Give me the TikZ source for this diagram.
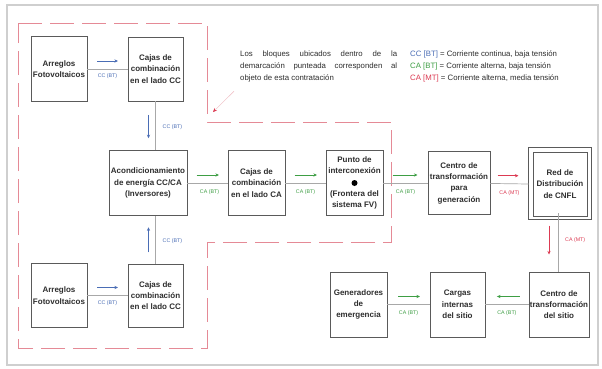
\documentclass[tikz,border=0pt]{standalone}
\usepackage{fontspec}
\setmainfont{Liberation Sans}
\usetikzlibrary{arrows.meta,calc}

\definecolor{boxgray}{HTML}{5A5A5A}
\definecolor{linegray}{HTML}{A8A8A8}
\definecolor{framegray}{HTML}{CFCFCF}
\definecolor{txt}{HTML}{2E2E2E}
\definecolor{cblue}{HTML}{4A6DB5}
\definecolor{cgreen}{HTML}{3E9E44}
\definecolor{cred}{HTML}{DC3A52}
\definecolor{dashred}{HTML}{E58A96}

\begin{document}
\begin{tikzpicture}[x=1pt,y=-1pt,
  blk/.style={draw=boxgray, line width=0.7pt, fill=white, align=center,
    inner sep=1pt, text=txt, font=\fontsize{8}{11.3}\selectfont\bfseries},
  conn/.style={draw=linegray, line width=0.7pt},
  flow/.style={-{Stealth[length=3.6pt,width=3.2pt]}, line width=0.6pt},
  lbl/.style={font=\fontsize{5.3}{6}\selectfont, inner sep=0pt},
  note/.style={font=\fontsize{7.8}{11.8}\selectfont, text=txt, inner sep=0pt}]

\useasboundingbox (0,0) rectangle (602,368);
\fill[white] (0,0) rectangle (602,368);

% page frame
\draw[framegray, line width=1.2pt] (7,5) rectangle (598,365);

% dashed boundary of the scope of the contract
\draw[dashred, line width=0.8pt, dash pattern=on 24pt off 8pt]
  (18,23) -- (207,23) -- (207,122) -- (391,122) -- (391,242)
  -- (207,242) -- (207,348) -- (18,348) -- cycle;

% blocks
\node[blk, minimum width=56pt, minimum height=65pt] (pv1) at (59,69) {Arreglos\\Fotovoltaicos};
\node[blk, minimum width=55pt, minimum height=64pt] (cc1) at (155.5,69) {Cajas de\\combinación\\en el lado CC};
\node[blk, minimum width=78pt, minimum height=65pt] (acond) at (148,183) {Acondicionamiento\\de energía CC/CA\\(Inversores)};
\node[blk, minimum width=57pt, minimum height=65pt] (cca) at (256.5,183) {Cajas de\\combinación\\en el lado CA};
\node[blk, minimum width=57pt, minimum height=65pt] (punto) at (354.5,183) {Punto de\\interconexión\\\strut\\(Frontera del\\sistema FV)};
\fill[black] (punto.center) circle (3pt);
\node[blk, minimum width=62pt, minimum height=63pt] (cgen) at (459,183) {Centro de\\transformación\\para\\generación};
\node[blk, minimum width=54pt, minimum height=64pt] (red) at (560,184) {Red de\\Distribución\\de CNFL};
\draw[boxgray, line width=0.7pt] ([shift={(-4,-4)}]red.north west) rectangle ([shift={(4,3)}]red.south east);
\node[blk, minimum width=60pt, minimum height=65pt] (csit) at (559,304.5) {Centro de\\transformación\\del sitio};
\node[blk, minimum width=55pt, minimum height=65pt] (carg) at (457.5,304.5) {Cargas\\internas\\del sitio};
\node[blk, minimum width=57pt, minimum height=65pt] (gen) at (358.5,304.5) {Generadores\\de\\emergencia};
\node[blk, minimum width=56pt, minimum height=64pt] (pv2) at (59,295.5) {Arreglos\\Fotovoltaicos};
\node[blk, minimum width=55pt, minimum height=63pt] (cc2) at (155.5,295.5) {Cajas de\\combinación\\en el lado CC};

% horizontal links: grey line, coloured arrow above, label below
\draw[conn] (pv1) -- (cc1) coordinate[midway] (m1);
\draw[flow, cblue] ([shift={(-10.5,-8)}]m1) -- ([shift={(10.5,-8)}]m1);
\node[lbl, text=cblue] at ([shift={(0,7)}]m1) {CC (BT)};

\draw[conn] (pv2) -- (cc2) coordinate[midway] (m2);
\draw[flow, cblue] ([shift={(-10.5,-8)}]m2) -- ([shift={(10.5,-8)}]m2);
\node[lbl, text=cblue] at ([shift={(0,8)}]m2) {CC (BT)};

\draw[conn] (acond) -- (cca) coordinate[midway] (m3);
\draw[flow, cgreen] ([shift={(-11,-8)}]m3) -- ([shift={(11.5,-8)}]m3);
\node[lbl, text=cgreen] at ([shift={(2,9)}]m3) {CA (BT)};

\draw[conn] (cca) -- (punto) coordinate[midway] (m4);
\draw[flow, cgreen] ([shift={(-11,-8)}]m4) -- ([shift={(11.5,-8)}]m4);
\node[lbl, text=cgreen] at ([shift={(0,9)}]m4) {CA (BT)};

\draw[conn] (punto) -- (cgen) coordinate[midway] (m5);
\draw[flow, cgreen] ([shift={(-13,-8)}]m5) -- ([shift={(12,-8)}]m5);
\node[lbl, text=cgreen] at ([shift={(0,9)}]m5) {CA (BT)};

\draw[conn] (cgen) -- ([xshift=-4pt]red.west) coordinate[midway] (m6);
\draw[flow, cred] ([shift={(-12,-8)}]m6) -- ([shift={(9,-8)}]m6);
\node[lbl, text=cred] at ([shift={(0,9)}]m6) {CA (MT)};

\draw[conn] (gen) -- (carg) coordinate[midway] (m7);
\draw[flow, cgreen] ([shift={(-10.5,-8)}]m7) -- ([shift={(11.5,-8)}]m7);
\node[lbl, text=cgreen] at ([shift={(0,8.5)}]m7) {CA (BT)};

\draw[conn] (csit) -- (carg) coordinate[midway] (m8);
\draw[flow, cgreen] ([shift={(13,-8)}]m8) -- ([shift={(-10,-8)}]m8);
\node[lbl, text=cgreen] at ([shift={(0,8.5)}]m8) {CA (BT)};

% vertical links: grey line, coloured arrow on the left, label on the right
\draw[conn] (cc1.south) -- (cc1.south |- acond.north) coordinate[midway] (v1);
\draw[flow, cblue] ([shift={(-7,-11)}]v1) -- ([shift={(-7,12.5)}]v1);
\node[lbl, text=cblue, anchor=west] at ([shift={(7,1.5)}]v1) {CC (BT)};

\draw[conn] (cc2.north) -- (cc2.north |- acond.south) coordinate[midway] (v2);
\draw[flow, cblue] ([shift={(-7,12.5)}]v2) -- ([shift={(-7,-12.5)}]v2);
\node[lbl, text=cblue, anchor=west] at ([shift={(7,1.5)}]v2) {CC (BT)};

\draw[conn] ([shift={(-2,-3)}]red.south) -- ([xshift=-1pt]csit.north) coordinate[midway] (v3);
\draw[flow, cred] ([shift={(-9,-17)}]v3) -- ([shift={(-9,12)}]v3);
\node[lbl, text=cred, anchor=west] at ([shift={(7,-2)}]v3) {CA (MT)};

% explanatory note and legend
\node[note, anchor=north west, text width=157pt, align=justify] (nota) at (240,51)
  {Los bloques ubicados dentro de la\linebreak demarcación punteada corresponden al\linebreak objeto de esta contratación};
\coordinate (ptrtip) at (213,112);
\draw[dashred!60, line width=0.4pt, -{Stealth[length=4pt,width=3.5pt,color=cred,fill=cred]}]
  ([shift={(-6,9)}]nota.south west) -- (ptrtip);

\node[note, anchor=north west, align=left] (leyenda) at (410,51)
  {\textcolor{cblue}{CC [BT]} = Corriente continua, baja tensión\\
   \textcolor{cgreen}{CA [BT]} = Corriente alterna, baja tensión\\
   \textcolor{cred}{CA [MT]} = Corriente alterna, media tensión};
\end{tikzpicture}
\end{document}
